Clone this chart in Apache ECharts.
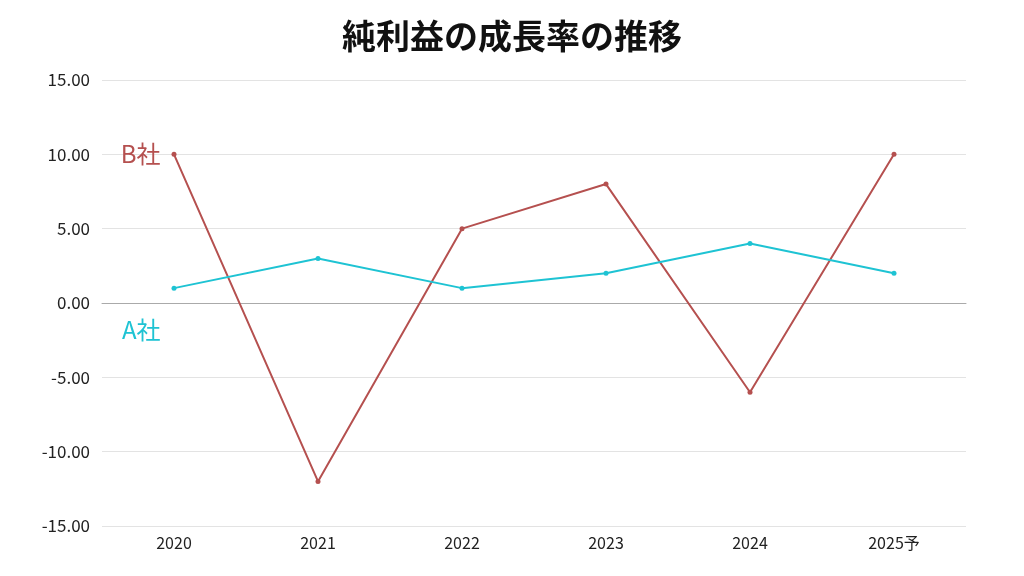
<!DOCTYPE html>
<html><head><meta charset="utf-8">
<script src="https://cdn.jsdelivr.net/npm/echarts@6/dist/echarts.min.js"></script>
<style>html,body{margin:0;padding:0;background:#fff}#c{width:1024px;height:576px}</style>
</head><body><div id="c"></div>
<script>
const categories = ['2020','2021','2022','2023','2024','2025予'];
const seriesA = [1, 3, 1, 2, 4, 2];
const seriesB = [10, -12, 5, 8, -6, 10];
const nameA = 'A社';
const nameB = 'B社';
const colorA = '#1ec3d3';
const colorB = '#b5504f';
const font = '"Noto Sans CJK JP", "Noto Sans", sans-serif';

function withFirstLabel(vals, name, color, offset) {
  return vals.map((v, i) => i === 0 ? {
    value: v,
    label: { show: true, position: 'left', formatter: name, color: color,
             fontSize: 24, fontFamily: font, offset: offset, distance: 11 }
  } : v);
}

const chart = echarts.init(document.getElementById('c'), null, {renderer: 'canvas'});
chart.setOption({
  animation: false,
  title: { text: '純利益の成長率の推移', left: 'center', top: 14,
    textStyle: { fontSize: 34, fontWeight: 'bold', color: '#111', fontFamily: font } },
  grid: { left: 102, right: 58, top: 80, bottom: 50, containLabel: false },
  xAxis: { type: 'category', data: categories, boundaryGap: true,
    axisLine: { onZero: true, lineStyle: { color: '#aaa' } },
    axisTick: { show: false },
    axisLabel: { color: '#222', fontSize: 16, fontFamily: font, margin: 9 },
    position: 'bottom' },
  yAxis: { type: 'value', min: -15, max: 15, interval: 5,
    axisLine: { show: false }, axisTick: { show: false },
    axisLabel: { color: '#222', fontSize: 17, fontFamily: font, margin: 12,
      formatter: v => v.toFixed(2) },
    splitLine: { lineStyle: { color: '#e3e3e3' } } },
  series: [
    { name: nameB, type: 'line', data: withFirstLabel(seriesB, nameB, colorB, [0, 0]),
      color: colorB, lineStyle: { width: 2, color: colorB }, symbol: 'circle', symbolSize: 5,
      itemStyle: { color: colorB } },
    { name: nameA, type: 'line', data: withFirstLabel(seriesA, nameA, colorA, [0, 42]),
      color: colorA, lineStyle: { width: 2, color: colorA }, symbol: 'circle', symbolSize: 5,
      itemStyle: { color: colorA } }
  ]
});
</script></body></html>
